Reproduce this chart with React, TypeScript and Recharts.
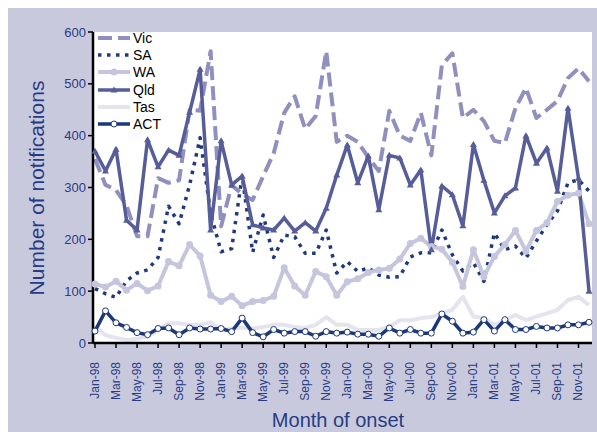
import { CartesianGrid, Line, LineChart, XAxis, YAxis } from "recharts";

// ─── Data ────────────────────────────────────────────────────
const MONTHS = [
  "Jan-98", "Feb-98", "Mar-98", "Apr-98", "May-98", "Jun-98", "Jul-98", "Aug-98", "Sep-98", "Oct-98", "Nov-98", "Dec-98",
  "Jan-99", "Feb-99", "Mar-99", "Apr-99", "May-99", "Jun-99", "Jul-99", "Aug-99", "Sep-99", "Oct-99", "Nov-99", "Dec-99",
  "Jan-00", "Feb-00", "Mar-00", "Apr-00", "May-00", "Jun-00", "Jul-00", "Aug-00", "Sep-00", "Oct-00", "Nov-00", "Dec-00",
  "Jan-01", "Feb-01", "Mar-01", "Apr-01", "May-01", "Jun-01", "Jul-01", "Aug-01", "Sep-01", "Oct-01", "Nov-01", "Dec-01",
];

const VIC = [
  355, 305, 295, 265, 206, 206, 318, 309, 314, 450, 448, 563,
  225, 305, 287, 276, 322, 366, 444, 476, 413, 438, 563, 388,
  400, 388, 358, 332, 448, 400, 390, 444, 362, 536, 559, 434,
  450, 428, 390, 386, 453, 492, 434, 450, 467, 511, 530, 505,
];
const SA = [
  105, 95, 88, 120, 135, 141, 165, 264, 230, 305, 396, 250,
  176, 182, 322, 175, 247, 165, 208, 205, 173, 173, 218, 135,
  157, 138, 145, 131, 127, 128, 166, 174, 174, 218, 170, 139,
  155, 119, 212, 180, 187, 164, 197, 228, 255, 309, 315, 293,
];
const WA = [
  114, 108, 119, 102, 115, 101, 110, 157, 149, 190, 168, 92,
  80, 90, 72, 80, 82, 90, 145, 110, 92, 138, 128, 92,
  118, 124, 136, 141, 144, 162, 192, 202, 186, 181, 156, 109,
  180, 128, 167, 190, 217, 177, 217, 232, 273, 285, 289, 230,
];
const QLD = [
  370, 332, 374, 237, 218, 392, 340, 372, 362, 445, 528, 218,
  390, 305, 322, 228, 222, 218, 241, 216, 232, 216, 260, 324,
  382, 309, 361, 257, 362, 357, 305, 334, 180, 303, 286, 226,
  383, 314, 251, 284, 299, 400, 347, 376, 293, 453, 318, 100,
];
const TAS = [
  33, 15, 10, 6, 8, 13, 25, 38, 38, 35, 35, 40,
  25, 28, 30, 28, 31, 35, 35, 31, 29, 35, 50, 35,
  35, 25, 25, 25, 31, 44, 44, 48, 50, 57, 64, 89,
  51, 48, 35, 44, 54, 44, 51, 57, 64, 83, 89, 73,
];
const ACT = [
  23, 62, 39, 30, 20, 16, 28, 29, 16, 29, 27, 27,
  28, 22, 48, 20, 12, 26, 19, 22, 22, 13, 22, 19,
  21, 17, 17, 13, 29, 19, 26, 19, 19, 56, 42, 19,
  21, 45, 23, 45, 26, 26, 32, 29, 29, 35, 35, 40,
];

const Y_TICKS = [0, 100, 200, 300, 400, 500, 600];

const data = MONTHS.map((month, i) => ({
  month,
  Vic: VIC[i],
  SA: SA[i],
  WA: WA[i],
  Qld: QLD[i],
  Tas: TAS[i],
  ACT: ACT[i],
}));

// ─── Styling ─────────────────────────────────────────────────
const BG = "#C9C9DE";
const TEXT = "#283C84";
const FONT = '"Liberation Sans", Arial, sans-serif';

type Marker = "none" | "dot" | "tri" | "ring";
type Series = { key: string; color: string; width: number; dash?: string; marker: Marker };

const SERIES: Series[] = [
  { key: "Vic", color: "#9090BE", width: 4, dash: "14 6", marker: "none" },
  { key: "SA", color: "#1F3A7C", width: 3.5, dash: "3.5 5.5", marker: "none" },
  { key: "WA", color: "#C5C5DD", width: 4, marker: "dot" },
  { key: "Qld", color: "#575D99", width: 3.5, marker: "tri" },
  { key: "Tas", color: "#E4E4EE", width: 4, marker: "none" },
  { key: "ACT", color: "#1D3778", width: 3.5, marker: "ring" },
];

function markerShape(m: Marker, color: string, cx: number, cy: number, key?: number) {
  if (m === "dot") return <circle key={key} cx={cx} cy={cy} r={3.5} fill={color} />;
  if (m === "ring")
    return <circle key={key} cx={cx} cy={cy} r={3} fill="#fff" stroke={color} strokeWidth={1} />;
  if (m === "tri")
    return (
      <path key={key} d={`M${cx},${cy - 3.5} L${cx + 3.5},${cy + 2.5} L${cx - 3.5},${cy + 2.5} Z`} fill={color} />
    );
  return null;
}

function dotFor(s: Series) {
  if (s.marker === "none") return false;
  return (p: { cx?: number; cy?: number; index?: number }) =>
    markerShape(s.marker, s.color, p.cx ?? 0, p.cy ?? 0, p.index) ?? <g key={p.index} />;
}

function MonthTick({ x, y, payload }: { x?: number; y?: number; payload?: { value: string } }) {
  const ty = (y ?? 0) + 12;
  return (
    <text
      x={x}
      y={ty}
      transform={`rotate(-90, ${x}, ${ty})`}
      textAnchor="end"
      dominantBaseline="central"
      fontSize={12}
      fontFamily={FONT}
      fill={TEXT}
    >
      {payload?.value}
    </text>
  );
}

function LegendBox() {
  return (
    <div style={{ position: "absolute", left: 90, top: 21, fontFamily: FONT, fontSize: 14, color: "#000" }}>
      {SERIES.map((s) => (
        <div key={s.key} style={{ display: "flex", alignItems: "center", height: 17.3 }}>
          <svg width={35} height={12} style={{ display: "block" }}>
            <line x1={0} y1={6} x2={32} y2={6} stroke={s.color} strokeWidth={s.width} strokeDasharray={s.dash} />
            {markerShape(s.marker, s.color, 16, 6)}
          </svg>
          <span>{s.key}</span>
        </div>
      ))}
    </div>
  );
}

export default function App() {
  return (
    <div style={{ position: "fixed", left: 8, top: 8, width: 589, height: 424, background: BG }}>
      <LineChart width={589} height={424} data={data} margin={{ top: 24, right: 5, bottom: 0, left: 0 }}>
        <CartesianGrid fill="#FFFFFF" horizontal={false} vertical={false} />
        <XAxis
          dataKey="month"
          interval={1}
          height={89}
          padding={{ left: 2, right: 3 }}
          tick={<MonthTick />}
          tickSize={5}
          tickLine={{ stroke: "#000", strokeWidth: 1.5 }}
          axisLine={{ stroke: "#000", strokeWidth: 2.5 }}
        />
        <YAxis
          domain={[0, 600]}
          ticks={Y_TICKS}
          width={85}
          tickSize={5}
          tick={{ fontSize: 13, fill: TEXT, fontFamily: FONT }}
          tickLine={{ stroke: "#000", strokeWidth: 1.5 }}
          axisLine={{ stroke: "#000", strokeWidth: 2.5 }}
        />
        {SERIES.map((s) => (
          <Line
            key={s.key}
            type="linear"
            dataKey={s.key}
            stroke={s.color}
            strokeWidth={s.width}
            strokeDasharray={s.dash}
            strokeLinejoin="round"
            dot={dotFor(s)}
            activeDot={false}
            isAnimationActive={false}
          />
        ))}
      </LineChart>
      <LegendBox />
      <div
        style={{
          position: "absolute", left: 29, top: 180,
          transform: "translate(-50%, -50%) rotate(-90deg)",
          whiteSpace: "nowrap", fontFamily: FONT, fontSize: 21, color: TEXT,
        }}
      >
        Number of notifications
      </div>
      <div
        style={{
          position: "absolute", left: 330, top: 412,
          transform: "translate(-50%, -50%)",
          whiteSpace: "nowrap", fontFamily: FONT, fontSize: 20, color: TEXT,
        }}
      >
        Month of onset
      </div>
    </div>
  );
}
